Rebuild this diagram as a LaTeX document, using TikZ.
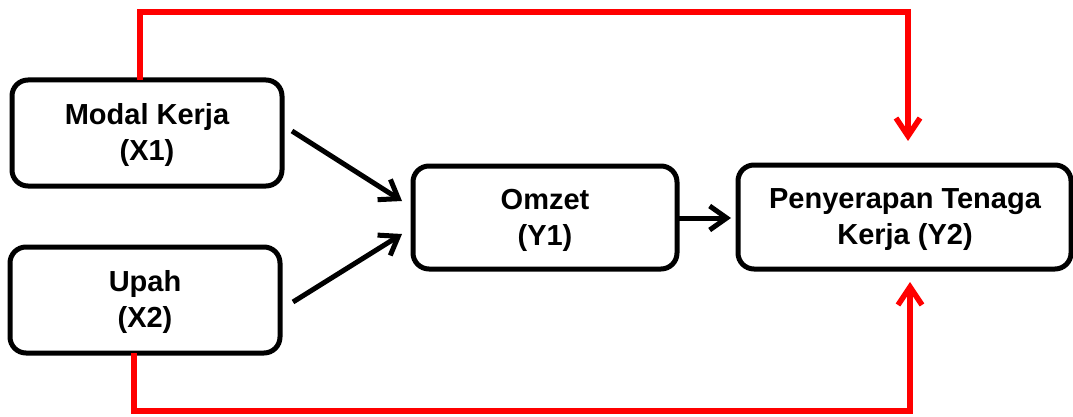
\documentclass[tikz,border=0pt]{standalone}
\usepackage{fontspec}
\setmainfont{Liberation Sans}
\usetikzlibrary{arrows.meta}
\definecolor{redline}{RGB}{255,0,0}
\tikzset{
  box/.style={draw=black, line width=5pt, rounded corners=16pt},
  lbl/.style={font=\fontsize{29}{36}\selectfont\bfseries, align=center, inner sep=0pt},
  blackarrow/.style={draw=black, line width=5pt,
    -{Straight Barb[length=17pt,width=24pt,line width=5pt]}},
  redarrow/.style={draw=redline, line width=5.5pt,
    -{Straight Barb[length=18pt,width=24pt,line width=5.5pt]}},
}
\begin{document}
\begin{tikzpicture}[x=1pt,y=-1pt]
\useasboundingbox (0,0) rectangle (1073,417);
% boxes
\draw[box] (12,80) rectangle (282,186);
\node[lbl] (x1) at (147,135) {Modal Kerja\\(X1)};
\draw[box] (10,247) rectangle (280,353);
\node[lbl] (x2) at (145,302) {Upah\\(X2)};
\draw[box] (413,166) rectangle (677,269);
\node[lbl] (y1) at (545,220) {Omzet\\(Y1)};
\draw[box] (738,165) rectangle (1071,269);
\node[lbl] (y2) at (905,220) {Penyerapan Tenaga\\Kerja (Y2)};
% named anchor coordinates
\coordinate (x1out) at (292,131);
\coordinate (x1in) at (402,201);
\coordinate (x2out) at (293,302);
\coordinate (x2in) at (402,234);
\coordinate (y1out) at (677,218);
\coordinate (y2in) at (731,218);
\coordinate (x1top) at (140,80);
\coordinate (topL) at (140,12);
\coordinate (topR) at (908,12);
\coordinate (y2top) at (908,141);
\coordinate (x2bot) at (134,353);
\coordinate (botL) at (134,411);
\coordinate (botR) at (910,411);
\coordinate (y2bot) at (910,282);
% connectors
\draw[blackarrow] (x1out) -- (x1in);
\draw[blackarrow] (x2out) -- (x2in);
\draw[blackarrow] (y1out) -- (y2in);
\draw[redarrow] (x1top) -- (topL) -- (topR) -- (y2top);
\draw[redarrow] (x2bot) -- (botL) -- (botR) -- (y2bot);
\end{tikzpicture}
\end{document}
